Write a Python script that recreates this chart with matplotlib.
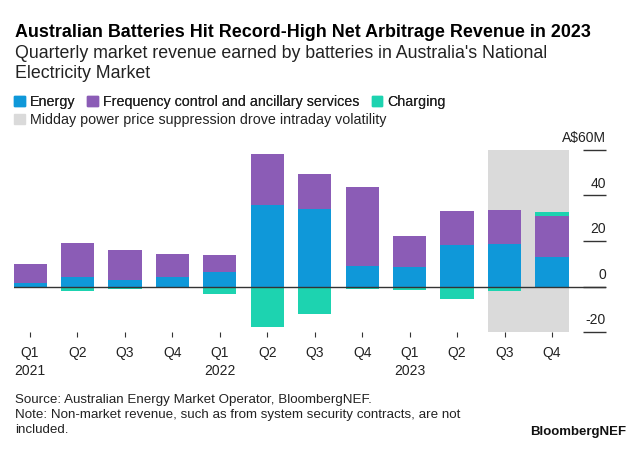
"""
Quarterly battery revenue in Australia's NEM, stacked by revenue stream.
"""

import matplotlib

matplotlib.use("Agg")
import matplotlib.pyplot as plt
import matplotlib.transforms as mtransforms
import numpy as np
from matplotlib.patches import Patch

plt.rcParams["font.family"] = ["Liberation Sans", "DejaVu Sans"]

# values, A$ millions
quarters = ["Q1", "Q2", "Q3", "Q4", "Q1", "Q2", "Q3", "Q4", "Q1", "Q2", "Q3", "Q4"]
years = ["2021", "", "", "", "2022", "", "", "", "2023", "", "", ""]
energy = [1.5, 4.0, 2.8, 4.1, 6.5, 36.0, 34.1, 9.0, 8.4, 18.2, 18.8, 13.1]
fcas = [8.5, 15.1, 13.2, 10.0, 7.3, 22.1, 15.3, 34.8, 13.8, 14.9, 15.0, 18.1]
charging = [-0.7, -1.9, -1.2, -0.4, -3.4, -17.8, -12.1, -1.3, -1.5, -5.6, -1.8, 1.7]
highlight = [10, 11]
y_ticks = [-20, 0, 20, 40, 60]
y_labels = ["-20", "0", "20", "40", "A\\$60M"]

BLUE = "#0f98d9"
PURPLE = "#8b5cb6"
TEAL = "#1dd3b0"
GREY = "#dadada"
BAR_WIDTH = 0.7


def px_y(y):
    # pixel row from the top -> figure fraction
    return 1 - y / 450


fig = plt.figure(figsize=(6.4, 4.5), dpi=100)
ax = fig.add_axes([14 / 640, 118 / 450, 592 / 640, 182 / 450])

x = np.arange(len(quarters))
energy = np.array(energy)
fcas = np.array(fcas)
charging = np.array(charging)
charge_bottom = np.where(charging > 0, energy + fcas, 0)

ax.axvspan(
    highlight[0] - BAR_WIDTH / 2, highlight[-1] + BAR_WIDTH / 2, color=GREY, lw=0, zorder=0
)
ax.bar(x, energy, BAR_WIDTH, color=BLUE, zorder=2)
ax.bar(x, fcas, BAR_WIDTH, bottom=energy, color=PURPLE, zorder=2)
ax.bar(x, charging, BAR_WIDTH, bottom=charge_bottom, color=TEAL, zorder=2)
ax.axhline(0, color="#333333", lw=1, zorder=3)

ax.set_xlim(-16 / 47.45, 576 / 47.45)
ax.set_ylim(-20, 60)
for spine in ax.spines.values():
    spine.set_visible(False)

ax.set_xticks(x)
ax.set_xticklabels(
    [q + ("\n" + y if y else "") for q, y in zip(quarters, years)],
    fontsize=10,
    color="#222222",
    linespacing=1.35,
)
ax.tick_params(axis="x", length=3.5, width=0.8, color="#333333", pad=6.5)

ax.set_yticks(y_ticks)
ax.tick_params(
    axis="y",
    direction="in",
    length=16.5,
    width=1,
    color="#333333",
    left=False,
    right=True,
    labelleft=False,
    labelright=False,
)
trans = mtransforms.blended_transform_factory(ax.transAxes, ax.transData)
for v, lab in zip(y_ticks, y_labels):
    ax.annotate(
        lab,
        (1.0, v),
        xycoords=trans,
        xytext=(0, 3.5),
        textcoords="offset points",
        ha="right",
        va="bottom",
        fontsize=10,
        color="#222222",
    )

fig.text(
    15 / 640,
    px_y(37),
    "Australian Batteries Hit Record-High Net Arbitrage Revenue in 2023",
    fontsize=12.9,
    fontweight="bold",
    color="#000000",
)
fig.text(
    15 / 640,
    px_y(58),
    "Quarterly market revenue earned by batteries in Australia's National",
    fontsize=12.8,
    color="#222222",
)
fig.text(15 / 640, px_y(78), "Electricity Market", fontsize=12.8, color="#222222")

legend_kw = dict(
    loc="upper left",
    frameon=False,
    fontsize=10.3,
    handlelength=0.75,
    handleheight=0.75,
    handletextpad=0.35,
    columnspacing=0.85,
    borderpad=0,
    borderaxespad=0,
)
leg1 = fig.legend(
    handles=[
        Patch(color=BLUE, label="Energy"),
        Patch(color=PURPLE, label="Frequency control and ancillary services"),
        Patch(color=TEAL, label="Charging"),
    ],
    bbox_to_anchor=(14 / 640, px_y(95)),
    ncol=3,
    **legend_kw,
)
for t in leg1.get_texts():
    t.set_color("#222222")
fig.add_artist(leg1)
leg2 = fig.legend(
    handles=[Patch(color=GREY, label="Midday power price suppression drove intraday volatility")],
    bbox_to_anchor=(14 / 640, px_y(113)),
    **legend_kw,
)
for t in leg2.get_texts():
    t.set_color("#222222")

footer = [
    "Source: Australian Energy Market Operator, BloombergNEF.",
    "Note: Non-market revenue, such as from system security contracts, are not",
    "included.",
]
for i, line in enumerate(footer):
    fig.text(15 / 640, px_y(403 + 15 * i), line, fontsize=9.6, color="#222222")
fig.text(
    626 / 640,
    px_y(435),
    "BloombergNEF",
    fontsize=9.5,
    fontweight="bold",
    color="#111111",
    ha="right",
)

fig.savefig("out.png", dpi=100, facecolor="white")
